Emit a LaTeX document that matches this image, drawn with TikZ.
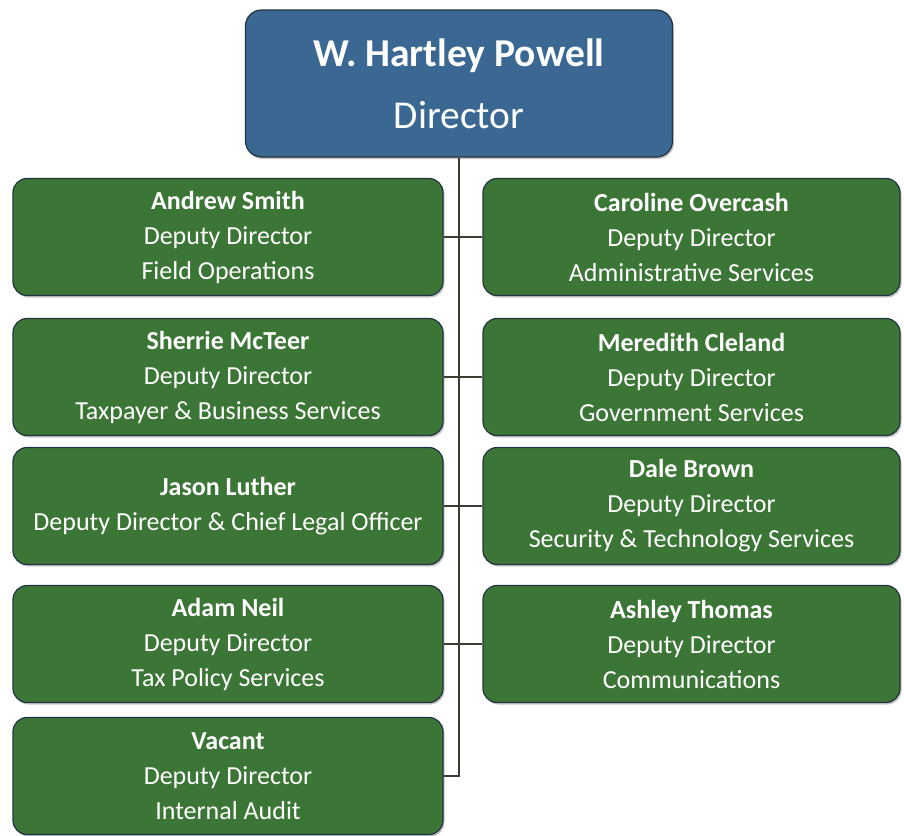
\documentclass[tikz,border=0pt]{standalone}
\usepackage{fontspec}
\setmainfont{Carlito}
\usetikzlibrary{shadows}

\definecolor{boxgreen}{RGB}{60,118,54}
\definecolor{boxblue}{RGB}{58,104,146}
\definecolor{boxedge}{RGB}{34,52,66}
\definecolor{linkgray}{RGB}{60,60,50}

\begin{document}
\begin{tikzpicture}[x=1pt, y=-1pt,
  main node/.style={rectangle, rounded corners=16pt, draw=boxedge, line width=1.2pt,
                    fill=boxblue, text=white, align=center, inner sep=0pt,
                    minimum width=427pt, minimum height=147pt,
                    font=\fontsize{39.5}{62}\selectfont,
                    drop shadow={opacity=0.45, shadow xshift=1.5pt, shadow yshift=-2pt}},
  deputy node/.style={main node, rounded corners=14pt, fill=boxgreen,
                    minimum width=430pt, minimum height=117pt,
                    font=\fontsize{26}{35}\selectfont},
  link/.style={draw=linkgray, line width=1.1pt}]
\useasboundingbox (0,0) rectangle (904,835);

\node[main node](dir) at (459,83.5) {\textbf{W. Hartley Powell}\\Director};

% left column
\node[deputy node](l1) at (228,237) {\textbf{Andrew Smith}\\Deputy Director\\Field Operations};
\node[deputy node](l2) at (228,377) {\textbf{Sherrie McTeer}\\Deputy Director\\Taxpayer \& Business Services};
\node[deputy node](l3) at (228,506) {\textbf{Jason Luther}\\Deputy Director \& Chief Legal Officer};
\node[deputy node](l4) at (228,644) {\textbf{Adam Neil}\\Deputy Director\\Tax Policy Services};
\node[deputy node](l5) at (228,776) {\textbf{Vacant}\\Deputy Director\\Internal Audit};

% right column
\node[deputy node, minimum width=417pt](r1) at (691.5,237) {\textbf{Caroline Overcash}\\Deputy Director\\Administrative Services};
\node[deputy node, minimum width=417pt](r2) at (691.5,377) {\textbf{Meredith Cleland}\\Deputy Director\\Government Services};
\node[deputy node, minimum width=417pt](r3) at (691.5,506) {\textbf{Dale Brown}\\Deputy Director\\Security \& Technology Services};
\node[deputy node, minimum width=417pt](r4) at (691.5,644) {\textbf{Ashley Thomas}\\Deputy Director\\Communications};

\coordinate (trunk) at (dir.south |- l5.east);
\draw[link] (dir.south) -- (trunk) -- (l5.east);
\draw[link] (l1.east) -- (r1.west);
\draw[link] (l2.east) -- (r2.west);
\draw[link] (l3.east) -- (r3.west);
\draw[link] (l4.east) -- (r4.west);

\end{tikzpicture}
\end{document}
